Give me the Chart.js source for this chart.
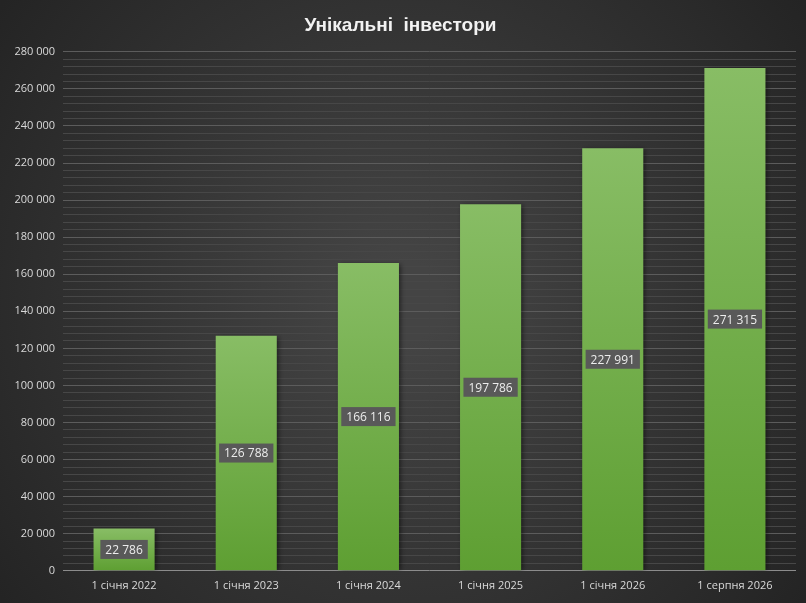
<!DOCTYPE html>
<html>
<head>
<meta charset="utf-8">
<script src="https://cdn.jsdelivr.net/npm/chart.js@4/dist/chart.umd.min.js"></script>
<style>
  html, body { margin: 0; padding: 0; background: #2b2b2b; }
  #wrap { width: 806px; height: 603px; }
</style>
</head>
<body>
<div id="wrap"><canvas id="c"></canvas></div>
<script>
// Data
const categories = ['1 січня 2022', '1 січня 2023', '1 січня 2024', '1 січня 2025', '1 січня 2026', '1 серпня 2026'];
const investors = [22786, 126788, 166116, 197786, 227991, 271315];
const chartTitle = 'Унікальні  інвестори';

// Background: dark radial gradient
const bgPlugin = {
    id: 'bg',
    beforeDraw(chart) {
        const { ctx, width, height } = chart;
        const g = ctx.createRadialGradient(width / 2, height / 2, 40, width / 2, height / 2, width * 0.62);
        g.addColorStop(0, '#444444');
        g.addColorStop(1, '#242424');
        ctx.save();
        ctx.fillStyle = g;
        ctx.fillRect(0, 0, width, height);
        ctx.restore();
    }
};

// Soft shadow for bars
const shadowPlugin = {
    id: 'barShadow',
    beforeDatasetDraw(chart) {
        const ctx = chart.ctx;
        ctx.save();
        ctx.shadowColor = 'rgba(0,0,0,0.55)';
        ctx.shadowBlur = 5;
        ctx.shadowOffsetX = 2;
        ctx.shadowOffsetY = 1;
    },
    afterDatasetDraw(chart) {
        chart.ctx.restore();
    }
};

function fmt(v) {
    return v.toString().replace(/\B(?=(\d{3})+(?!\d))/g, ' ');
}

// Value labels in the middle of each bar
const valueLabels = {
    id: 'valueLabels',
    afterDatasetsDraw(chart) {
        const ctx = chart.ctx;
        const meta = chart.getDatasetMeta(0);
        ctx.save();
        ctx.font = '12px "Open Sans", sans-serif';
        ctx.textAlign = 'center';
        ctx.textBaseline = 'middle';
        meta.data.forEach((bar, i) => {
            const txt = fmt(investors[i]);
            const cy = (bar.y + bar.base) / 2;
            const w = ctx.measureText(txt).width + 10;
            const h = 19;
            ctx.fillStyle = '#595959';
            ctx.fillRect(bar.x - w / 2, cy - h / 2, w, h);
            ctx.fillStyle = '#ededed';
            ctx.fillText(txt, bar.x, cy + 1);
        });
        ctx.restore();
    }
};

new Chart(document.getElementById('c'), {
    type: 'bar',
    data: {
        labels: categories,
        datasets: [{
            data: investors,
            barPercentage: 0.5,
            categoryPercentage: 1,
            backgroundColor(context) {
                const chart = context.chart;
                const y = chart.scales.y;
                if (!y || !chart.chartArea) return '#6aab3b';
                const top = y.getPixelForValue(context.raw);
                const bottom = y.getPixelForValue(0);
                const g = chart.ctx.createLinearGradient(0, top, 0, bottom);
                g.addColorStop(0, '#88bd65');
                g.addColorStop(1, '#5e9f32');
                return g;
            }
        }]
    },
    options: {
        responsive: true,
        maintainAspectRatio: false,
        animation: false,
        layout: { padding: { left: 5, right: 10, top: 0, bottom: 11 } },
        plugins: {
            legend: { display: false },
            tooltip: { enabled: false },
            title: {
                display: true,
                text: chartTitle,
                color: '#f2f2f2',
                font: { family: '"Liberation Sans", Arial, sans-serif', size: 19, weight: 'bold' },
                padding: { top: 14, bottom: 15 }
            }
        },
        scales: {
            x: {
                grid: { display: false },
                border: { display: false },
                ticks: { color: '#d9d9d9', font: { family: '"Open Sans", sans-serif', size: 11 }, padding: 0 }
            },
            y: {
                min: 0,
                max: 280000,
                afterFit(scale) { scale.width = 58; },
                border: { display: false },
                grid: {
                    drawTicks: false,
                    color(ctx) {
                        const v = ctx.tick.value;
                        if (v === 0) return '#8c8c8c';
                        return v % 20000 === 0 ? '#5c5c5c' : '#474747';
                    },
                    lineWidth: 1
                },
                ticks: {
                    stepSize: 4000,
                    autoSkip: false,
                    padding: 8,
                    color: '#d9d9d9',
                    font: { family: '"Open Sans", sans-serif', size: 11 },
                    callback(v) { return v % 20000 === 0 ? fmt(v) : ''; }
                }
            }
        }
    },
    plugins: [bgPlugin, shadowPlugin, valueLabels]
});
</script>
</body>
</html>
